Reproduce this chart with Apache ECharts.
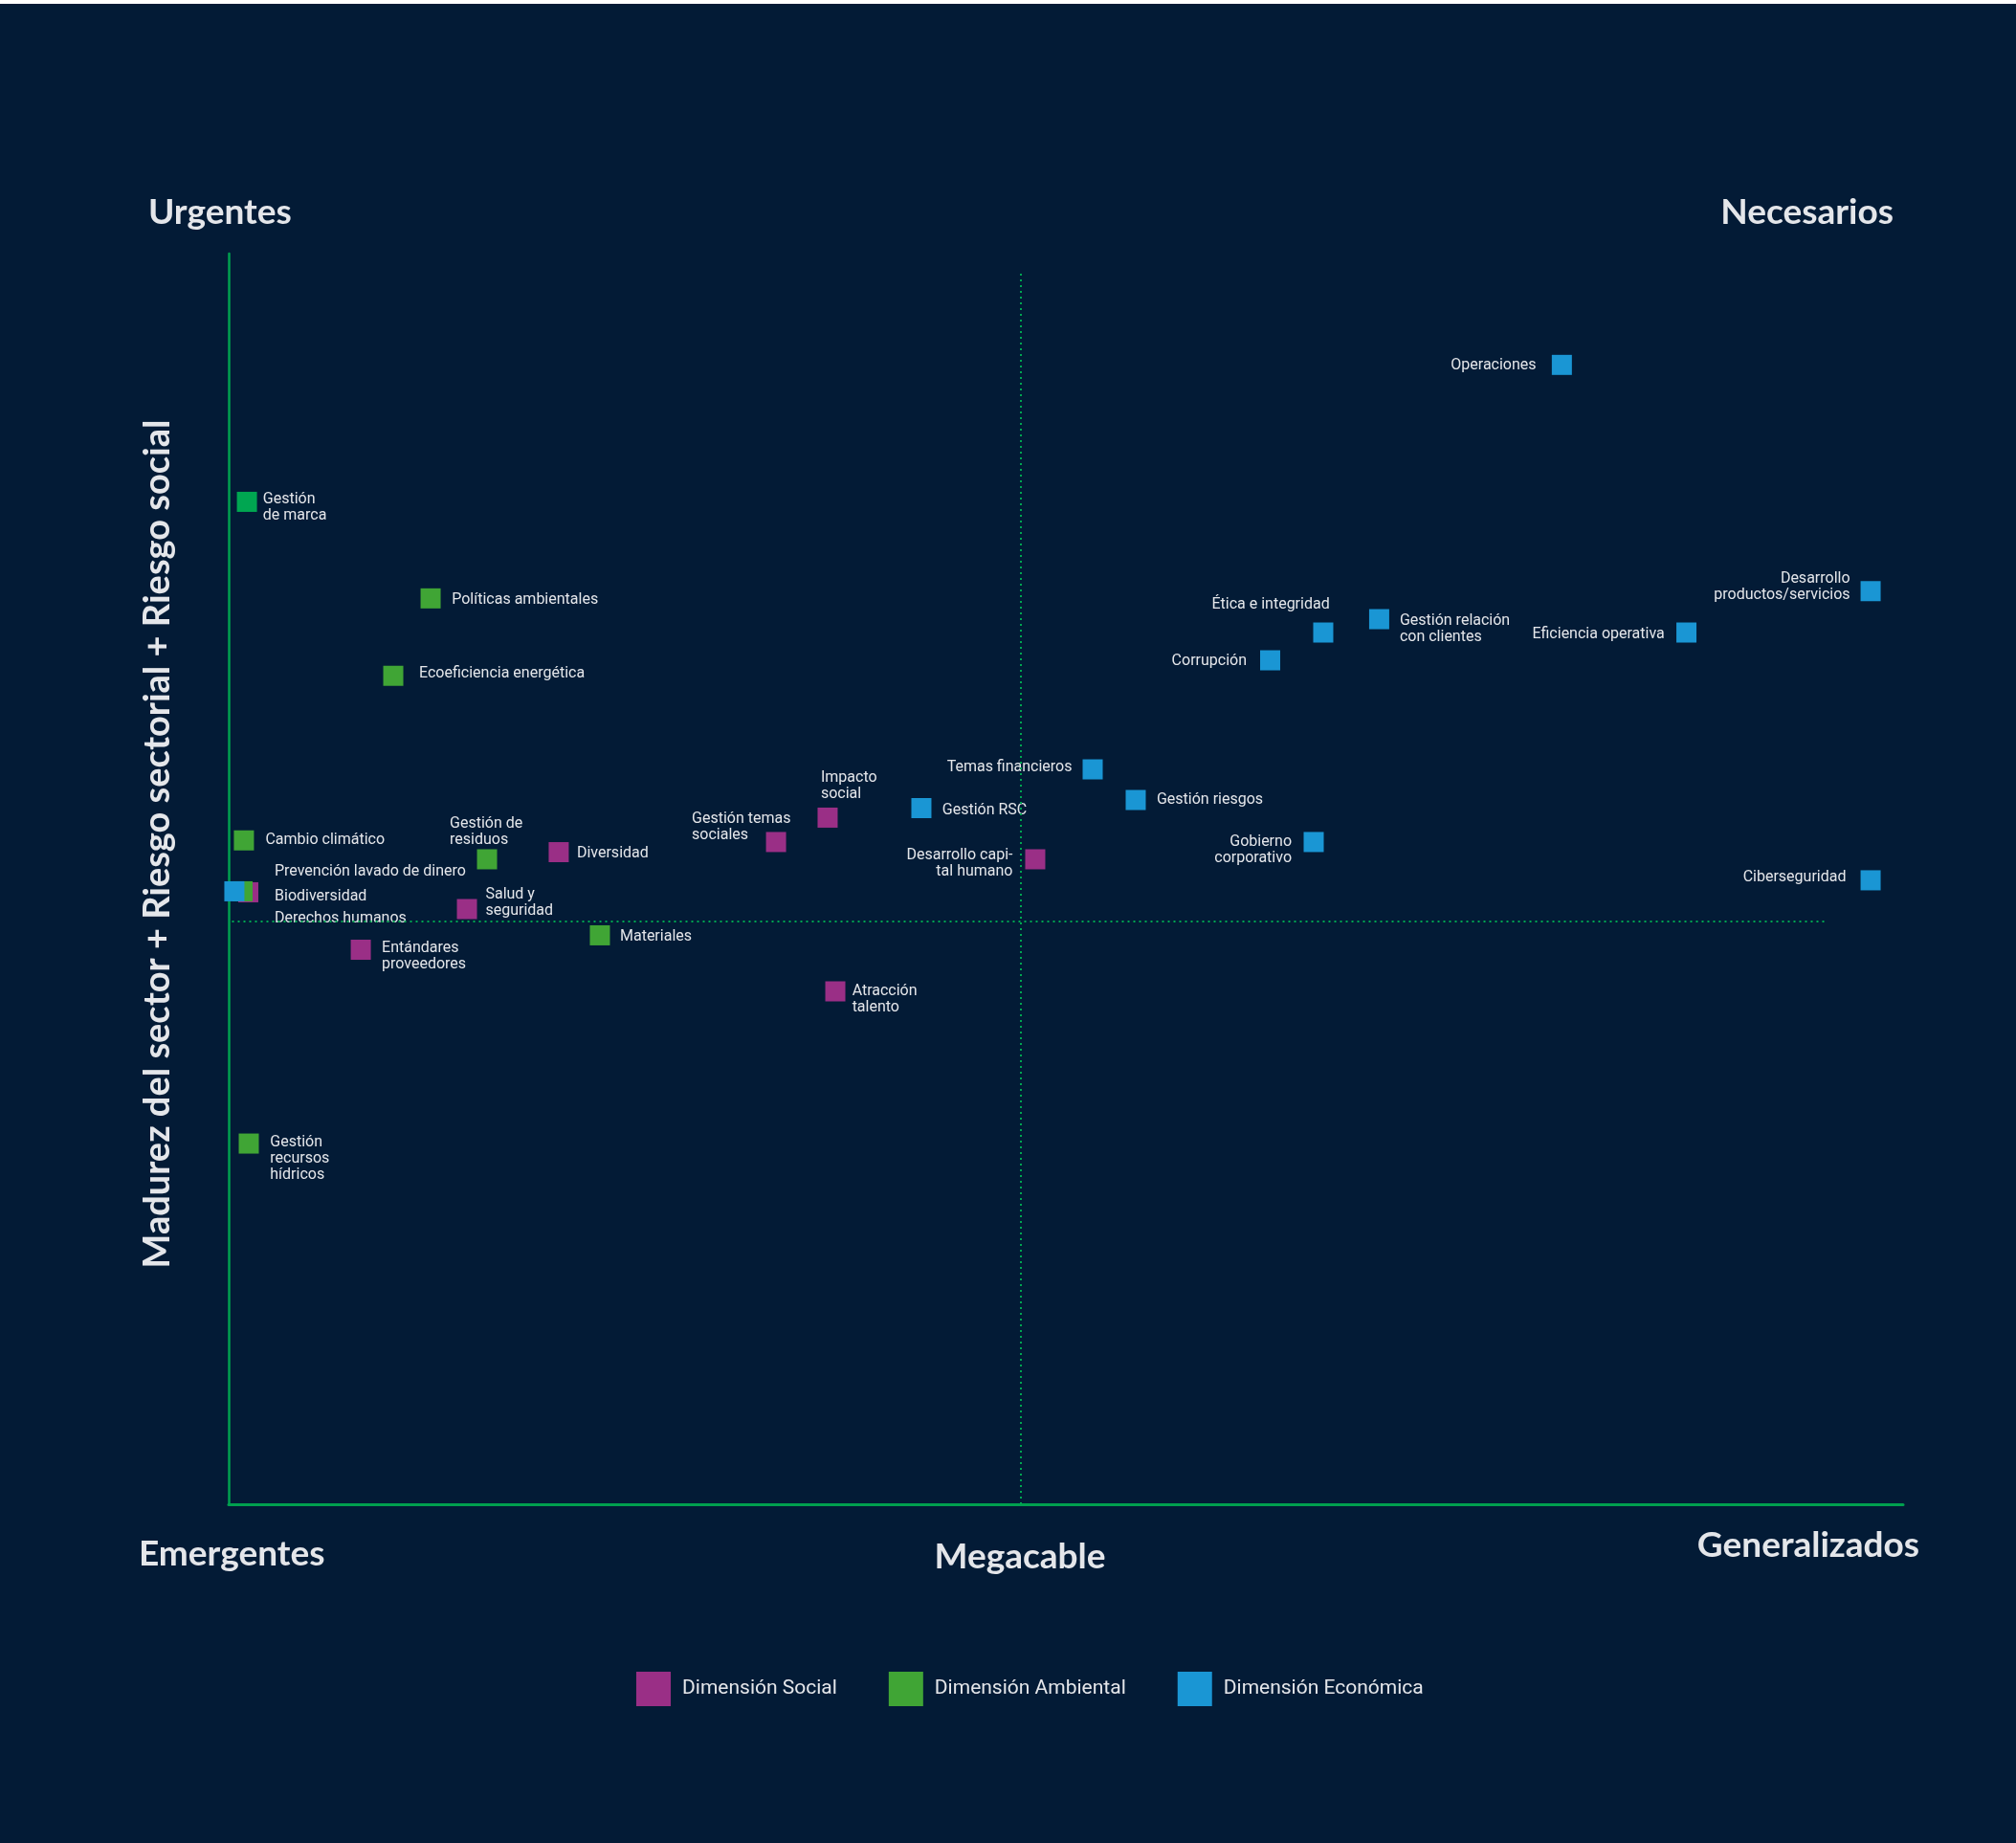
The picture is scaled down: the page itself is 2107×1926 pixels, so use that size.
<!DOCTYPE html>
<html><head><meta charset="utf-8">
<script src="https://cdn.jsdelivr.net/npm/echarts@6/dist/echarts.min.js"></script>
<style>html,body{margin:0;padding:0;background:#ffffff;}#c{position:absolute;left:0;top:4px;width:2107px;height:1922px;background:#031b36;}</style>
</head><body><div id="c"></div>
<script>
// ---- Data (axis units 0-100) ----
const socialNames = ['Derechos humanos', 'Entándares\nproveedores', 'Salud y\nseguridad', 'Diversidad', 'Gestión temas\nsociales', 'Impacto\nsocial', 'Atracción\ntalento', 'Desarrollo capi-\ntal humano'];
const socialX = [1.17, 7.89, 14.23, 19.71, 32.69, 35.77, 36.23, 48.17];
const socialY = [48.93, 44.34, 47.59, 52.14, 52.95, 54.90, 41.01, 51.57];

const ambientalNames = ['Gestión\nde marca', 'Políticas ambientales', 'Ecoeficiencia energética', 'Cambio climático', 'Gestión de\nresiduos', 'Biodiversidad', 'Materiales', 'Gestión\nrecursos\nhídricos'];
const ambientalX = [1.09, 12.06, 9.83, 0.91, 15.43, 0.83, 22.17, 1.20];
const ambientalY = [80.15, 72.43, 66.24, 53.08, 51.57, 49.01, 45.49, 28.84];

const economicaNames = ['Prevención lavado de dinero', 'Gestión RSC', 'Temas financieros', 'Gestión riesgos', 'Gobierno\ncorporativo', 'Corrupción', 'Ética e integridad', 'Gestión relación\ncon clientes', 'Eficiencia operativa', 'Desarrollo\nproductos/servicios', 'Ciberseguridad', 'Operaciones'];
const economicaX = [0.34, 41.37, 51.60, 54.17, 64.80, 62.20, 65.37, 68.71, 87.06, 98.06, 98.06, 79.62];
const economicaY = [49.01, 55.66, 58.76, 56.31, 52.95, 67.48, 69.70, 70.77, 69.70, 73.01, 49.89, 91.10];

const seriesNames = ['Dimensión Social', 'Dimensión Ambiental', 'Dimensión Económica'];
const quadrantX = 47.3;   // vertical guide
const quadrantY = 46.6;   // horizontal guide

// ---- Label placement (align, dx, dy from symbol centre) ----
const labelSpots = {
  'Derechos humanos': ['left', 27.5, 27.5],
  'Entándares\nproveedores': ['left', 22, 7.5],
  'Salud y\nseguridad': ['left', 19.4, -6.7],
  'Diversidad': ['left', 19, 1.5],
  'Gestión temas\nsociales': ['left', -88, -15.8],
  'Impacto\nsocial': ['left', -7, -32.6],
  'Atracción\ntalento': ['left', 17.6, 8.2],
  'Desarrollo capi-\ntal humano': ['right', -23.5, 4.3],
  'Gestión\nde marca': ['left', 16.7, 5.8],
  'Políticas ambientales': ['left', 22.2, 1.4],
  'Ecoeficiencia energética': ['left', 27, -2],
  'Cambio climático': ['left', 22.5, -0.7],
  'Gestión de\nresiduos': ['left', -39, -28],
  'Biodiversidad': ['left', 33.5, 5.2],
  'Materiales': ['left', 21, 1.5],
  'Gestión\nrecursos\nhídricos': ['left', 22.3, 16],
  'Prevención lavado de dinero': ['left', 42, -20.8],
  'Gestión RSC': ['left', 21.8, 2.2],
  'Temas financieros': ['right', -21.5, -2.3],
  'Gestión riesgos': ['left', 22, 0],
  'Gobierno\ncorporativo': ['right', -23, 8.3],
  'Corrupción': ['right', -24.5, 0.7],
  'Ética e integridad': ['right', 6.7, -28.7],
  'Gestión relación\ncon clientes': ['left', 21.5, 10],
  'Eficiencia operativa': ['right', -22.8, 1.7],
  'Desarrollo\nproductos/servicios': ['right', -21.5, -4],
  'Ciberseguridad': ['right', -25.6, -2.7],
  'Operaciones': ['right', -26.8, 0.4]
};
const specialColors = {'Gestión\nde marca': '#00a651'};

const colors = ['#9a2f86', '#40a535', '#1a96d4'];
const TXT = '#e4e6ea';

function build(names, xs, ys) {
  return names.map((n, i) => {
    const s = labelSpots[n];
    const item = {
      name: n,
      value: [xs[i], ys[i]],
      label: {align: s[0], offset: [s[1], s[2]]}
    };
    if (specialColors[n]) item.itemStyle = {color: specialColors[n]};
    return item;
  });
}

const chart = echarts.init(document.getElementById('c'), null, {renderer: 'canvas'});
const labelBase = {
  show: true, position: 'inside', verticalAlign: 'middle',
  formatter: '{b}', color: TXT, fontFamily: 'Roboto', fontSize: 16, lineHeight: 17
};
function series(idx, data, extra) {
  return Object.assign({
    type: 'scatter', name: seriesNames[idx], symbol: 'rect', symbolSize: 21,
    itemStyle: {color: colors[idx], opacity: 1}, label: labelBase, data: data,
    emphasis: {disabled: true}, z: 3
  }, extra || {});
}
const TF = 'bold 37px Lato';

chart.setOption({
  backgroundColor: '#031b36',
  animation: false,
  grid: {left: 239, right: 118, top: 261, bottom: 354},
  xAxis: {type: 'value', min: 0, max: 100, splitLine: {show: false}, axisTick: {show: false}, axisLabel: {show: false},
    axisLine: {show: true, lineStyle: {color: '#00a04f', width: 3}}},
  yAxis: {type: 'value', min: 0, max: 100, splitLine: {show: false}, axisTick: {show: false}, axisLabel: {show: false},
    axisLine: {show: true, lineStyle: {color: '#00a04f', width: 2.5}}},
  legend: {
    data: seriesNames, left: 660, top: 1738, icon: 'rect', itemWidth: 36, itemHeight: 36, itemGap: 54,
    textStyle: {color: TXT, fontFamily: 'Roboto', fontSize: 21, padding: [0, 0, 0, 7]}
  },
  graphic: [
    {type: 'text', left: 155, top: 200, style: {text: 'Urgentes', fill: TXT, font: TF}},
    {type: 'text', right: 128, top: 200, style: {text: 'Necesarios', fill: TXT, font: TF}},
    {type: 'text', left: 145, top: 1602, style: {text: 'Emergentes', fill: TXT, font: TF}},
    {type: 'text', x: 1066, y: 1623, style: {text: 'Megacable', fill: TXT, font: TF, textAlign: 'center', textVerticalAlign: 'middle'}},
    {type: 'text', x: 1890, y: 1611, style: {text: 'Generalizados', fill: TXT, font: TF, textAlign: 'center', textVerticalAlign: 'middle'}},
    {type: 'text', x: 165, y: 878, rotation: Math.PI / 2, style: {text: 'Madurez del sector + Riesgo sectorial + Riesgo social', fill: TXT, font: 'bold 38px Lato', textAlign: 'center', textVerticalAlign: 'middle'}}
  ],
  series: [
    series(0, build(socialNames, socialX, socialY), {
      markLine: {
        silent: true, symbol: 'none', label: {show: false},
        lineStyle: {color: '#00a651', type: [2, 4], width: 2},
        data: [
          [{coord: [quadrantX, 0]}, {coord: [quadrantX, 98.7]}],
          [{coord: [0.2, quadrantY]}, {coord: [95.4, quadrantY]}]
        ]
      }
    }),
    series(1, build(ambientalNames, ambientalX, ambientalY)),
    series(2, build(economicaNames, economicaX, economicaY))
  ]
});
</script></body></html>
